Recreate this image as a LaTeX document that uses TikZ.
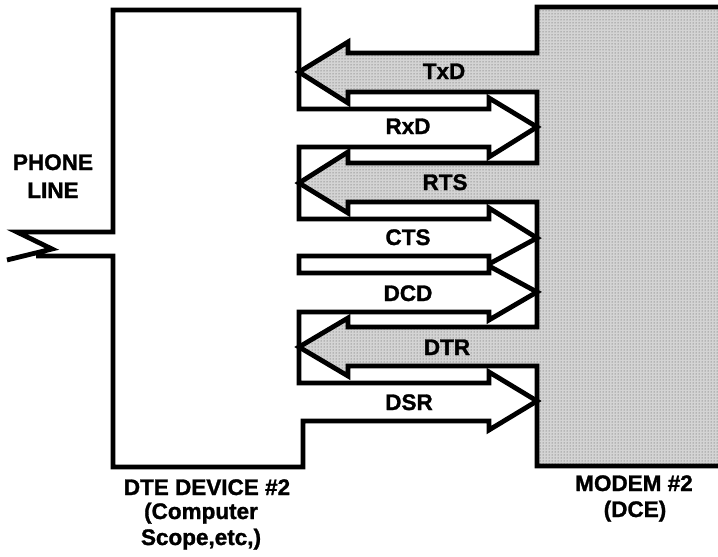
\documentclass[tikz,border=0pt]{standalone}
\usepackage{fontspec}
\setmainfont{Liberation Sans}[BoldFeatures={FakeBold=1.3}]
\usetikzlibrary{patterns}
\begin{document}
\begin{tikzpicture}[x=1pt,y=-1pt,line width=4.8pt,line join=miter,
  lbl/.style={font=\fontsize{22.5}{26}\selectfont\bfseries,inner sep=0pt,anchor=base},
  shade/.style={preaction={fill=black!17},preaction={pattern=dots,pattern color=black!70}}]
\useasboundingbox (0,0) rectangle (718,557);
\def\modempath{(722,7) -- (537,7) -- (537,53) -- (348,53) -- (348,42) -- (299,72) -- (348,103) -- (348,92) -- (537,92) -- (537,163) -- (348,163) -- (348,152) -- (299,183) -- (348,213) -- (348,202) -- (537,202) -- (537,327) -- (348,327) -- (348,318) -- (299,347) -- (348,376) -- (348,366) -- (537,366) -- (537,466) -- (722,466) -- cycle}
% modem fill
\path[shade] \modempath;
% DTE outline with outgoing arrows and phone line
\draw (7,260) -- (52,249) -- (17,232) -- (113,232) -- (113,10) -- (299,10) -- (299,109)
  -- (489,109) -- (489,98) -- (537,127) -- (489,157) -- (489,147) -- (299,147)
  -- (299,219) -- (489,219) -- (489,208) -- (537,238) -- (489,264) -- (489,256) -- (299,256)
  -- (299,273) -- (489,273) -- (489,266) -- (537,292) -- (489,320) -- (489,312) -- (299,312)
  -- (299,383) -- (489,383) -- (489,372) -- (537,401) -- (489,430) -- (489,421) -- (303,421)
  -- (303,467) -- (113,467) -- (113,256) -- (36,256);
% modem outline
\draw \modempath;
% labels
\node[lbl] (phone) at (53,170) {PHONE};
\node[lbl] (line) at (53,198) {LINE};
\node[lbl] (txd) at (444,79) {TxD};
\node[lbl] (rxd) at (408,134) {RxD};
\node[lbl] (rts) at (445,190) {RTS};
\node[lbl] (cts) at (408,245) {CTS};
\node[lbl] (dcd) at (408,301) {DCD};
\node[lbl] (dtr) at (447,355) {DTR};
\node[lbl] (dsr) at (409,410) {DSR};
\node[lbl] (dte1) at (207,495) {DTE DEVICE \#2};
\node[lbl] (dte2) at (201,519) {(Computer};
\node[lbl] (dte3) at (201,545) {Scope,etc,)};
\node[lbl] (mod1) at (634,491) {MODEM \#2};
\node[lbl] (mod2) at (635,517) {(DCE)};
\end{tikzpicture}
\end{document}
